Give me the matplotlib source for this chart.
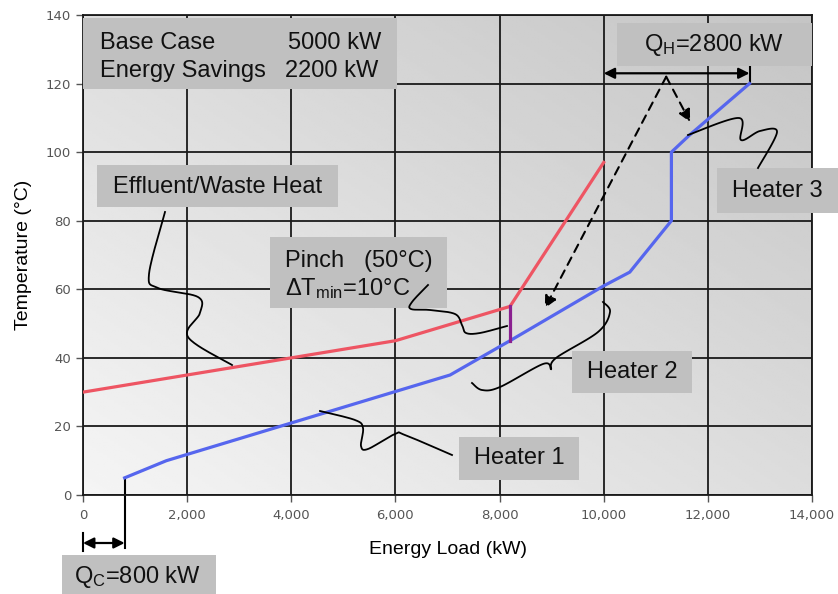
import numpy as np
import matplotlib
matplotlib.use("Agg")
import matplotlib.pyplot as plt
from matplotlib.patches import Rectangle
from matplotlib.lines import Line2D
from matplotlib.transforms import IdentityTransform

plt.rcParams['font.family'] = ['Liberation Sans', 'DejaVu Sans']
plt.rcParams['mathtext.fontset'] = 'custom'
plt.rcParams['mathtext.rm'] = 'Liberation Sans'
plt.rcParams['mathtext.it'] = 'Liberation Sans:italic'

# composite curves (energy load kW, temperature C)
hot_load = [0, 2000, 4000, 6000, 8200, 10000]
hot_temp = [30, 35, 40, 45, 55, 97]
cold_load = [800, 1600, 7050, 8200, 10000, 10500, 11300, 11300, 11650, 12800]
cold_temp = [5, 10, 35, 45, 61, 65, 80, 100, 105, 120]
pinch_load = 8200
pinch_hot, pinch_cold = 55, 45
qc = 800
qh_start, qh_end = 10000, 12800

x_ticks = [0, 2000, 4000, 6000, 8000, 10000, 12000, 14000]
y_ticks = [0, 20, 40, 60, 80, 100, 120, 140]

W, H = 838, 594
fig = plt.figure(figsize=(W / 100, H / 100), dpi=100)
ax = fig.add_axes([83 / W, 1 - 495 / H, (812 - 83) / W, (495 - 15) / H])
ax.set_xlim(0, 14000)
ax.set_ylim(0, 140)

# diagonal grey gradient background
u, v = np.meshgrid(np.linspace(0, 1, 200), np.linspace(0, 1, 200))
grad = 0.96 - 0.19 * (u + v) / 2
ax.imshow(grad, cmap='gray', vmin=0, vmax=1, extent=[0, 14000, 140, 0],
          aspect='auto', zorder=0)

ax.set_xticks(x_ticks)
ax.set_yticks(y_ticks)
ax.set_xticklabels(['{:,}'.format(t) for t in x_ticks])
ax.grid(True, color='#1a1a1a', lw=1.3, zorder=1)
ax.tick_params(axis='both', colors='#555555', labelsize=9.5, length=5,
               width=1, labelfontfamily='DejaVu Sans')
ax.tick_params(axis='x', pad=5)
for s in ax.spines.values():
    s.set_color('#1a1a1a')
    s.set_linewidth(1.3)
ax.set_xlabel('Energy Load (kW)', fontsize=14, labelpad=14)
ax.set_ylabel('Temperature (°C)', fontsize=14, labelpad=10)

ax.plot(hot_load, hot_temp, color='#ee5563', lw=2.3, zorder=3)
ax.plot(cold_load, cold_temp, color='#5666ee', lw=2.3, zorder=3)
ax.plot([pinch_load, pinch_load], [pinch_cold, pinch_hot], color='#8a2090',
        lw=2.3, zorder=4)

# Q_H and Q_C dimension arrows
ax.annotate('', xy=(qh_start, 123), xytext=(qh_end, 123),
            arrowprops=dict(arrowstyle='<|-|>', color='black', lw=1.6,
                            mutation_scale=16, shrinkA=0, shrinkB=0))
ax.plot([qh_end, qh_end], [120, 125.5], color='black', lw=1.5)
ax.annotate('', xy=(0, -14), xytext=(qc, -14), annotation_clip=False,
            arrowprops=dict(arrowstyle='<|-|>', color='black', lw=1.6,
                            mutation_scale=16, shrinkA=0, shrinkB=0))
ax.plot([0, 0], [-11, -16.2], color='black', lw=1.5, clip_on=False)
ax.plot([qc, qc], [cold_temp[0], -15.5], color='black', lw=1.5, clip_on=False)

# dashed pointer arrows
for tip in [(8870, 54.5), (11660, 108.8)]:
    ax.annotate('', xy=tip, xytext=(11200, 122),
                arrowprops=dict(arrowstyle='-|>', color='black', lw=1.5,
                                ls=(0, (4, 3)), mutation_scale=18,
                                shrinkA=0, shrinkB=0), zorder=5)


def catmull(pts, n=25):
    p = np.array(pts, float)
    p = np.vstack([p[0], p, p[-1]])
    out = []
    t = np.linspace(0, 1, n)[:, None]
    for i in range(1, len(p) - 2):
        p0, p1, p2, p3 = p[i - 1], p[i], p[i + 1], p[i + 2]
        out.append(0.5 * (2 * p1 + (-p0 + p2) * t
                          + (2 * p0 - 5 * p1 + 4 * p2 - p3) * t ** 2
                          + (-p0 + 3 * p1 - 3 * p2 + p3) * t ** 3))
    return np.vstack(out)


def squiggle(pts):
    c = catmull(pts)
    fig.add_artist(Line2D(c[:, 0], H - c[:, 1], color='black', lw=1.3,
                          transform=IdentityTransform(), zorder=9))


# hand-drawn leader lines (figure pixels, origin top-left)
squiggle([(165, 212), (149, 274), (158, 288), (198, 297), (200, 313),
          (188, 337), (232, 365)])
squiggle([(428, 285), (412, 302), (411, 309), (430, 310), (455, 314),
          (462, 325), (466, 333), (480, 333), (507, 326)])
squiggle([(472, 383), (482, 390), (500, 387), (543, 364), (551, 369)])
squiggle([(551, 369), (556, 358), (598, 332), (610, 312), (603, 302)])
squiggle([(320, 411), (355, 420), (363, 428), (361, 446), (368, 449),
          (395, 434), (405, 435), (452, 455)])
squiggle([(688, 135), (739, 118), (741, 140), (760, 131), (777, 132),
          (758, 168)])


def box(x0, y0, x1, y1):
    fig.add_artist(Rectangle((x0, H - y1), x1 - x0, y1 - y0,
                             facecolor='#c0c0c0', edgecolor='none',
                             transform=IdentityTransform(), zorder=7))


def label(x, y, s, ha='center', va='center'):
    fig.text(x, H - y, s, fontsize=17, ha=ha, va=va, color='#111111',
             transform=IdentityTransform(), zorder=8)


box(83, 18, 397, 89)
label(100, 49, 'Base Case', ha='left', va='baseline')
label(381, 49, '5000 kW', ha='right', va='baseline')
label(100, 77, 'Energy Savings', ha='left', va='baseline')
label(378, 77, '2200 kW', ha='right', va='baseline')

box(97, 165, 338, 207)
label(218, 187, 'Effluent/Waste Heat')

box(270, 237, 447, 308)
label(285, 267, 'Pinch   (50°C)', ha='left', va='baseline')
label(285, 295, r'ΔT$_{\mathrm{min}}$=10°C', ha='left', va='baseline')

box(617, 23, 812, 66)
label(714, 45, r'Q$_{\mathrm{H}}$=2800 kW')

box(717, 168, 838, 213)
label(777, 191, 'Heater 3')

box(572, 351, 692, 393)
label(632, 372, 'Heater 2')

box(459, 437, 579, 480)
label(519, 458, 'Heater 1')

box(62, 555, 216, 600)
label(138, 577, r'Q$_{\mathrm{C}}$=800 kW')

fig.savefig('out.png', dpi=100)
